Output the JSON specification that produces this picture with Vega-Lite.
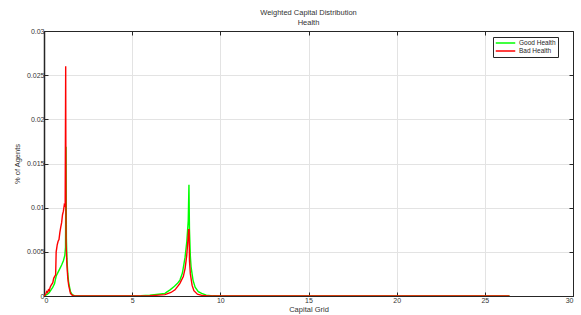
{
  "$schema": "https://vega.github.io/schema/vega-lite/v6.json",
  "autosize": "none",
  "width": 529,
  "height": 265,
  "padding": {"left": 44, "top": 31, "right": 8, "bottom": 19},
  "background": "white",
  "config": {
    "font": "Liberation Sans",
    "view": {"stroke": "#262626", "strokeWidth": 1},
    "axis": {
      "labelFont": "Liberation Sans",
      "titleFont": "Liberation Sans",
      "labelFontSize": 7,
      "titleFontSize": 7.5,
      "labelColor": "#333333",
      "titleColor": "#333333",
      "titleFontWeight": "normal",
      "domainColor": "#262626",
      "tickColor": "#262626",
      "gridColor": "#e3e3e3",
      "gridOpacity": 1
    }
  },
  "title": {
    "text": ["Weighted Capital Distribution", "Health"],
    "fontSize": 7.5,
    "fontWeight": "normal",
    "font": "Liberation Sans",
    "color": "#333333",
    "anchor": "middle",
    "lineHeight": 10,
    "offset": 1
  },
  "datasets": {
    "good": [
      {"x": 0, "y": 0}, {"x": 0.1, "y": 0.0001}, {"x": 0.2, "y": 0.0002}, {"x": 0.3, "y": 0.0004},
      {"x": 0.4, "y": 0.0007}, {"x": 0.5, "y": 0.001}, {"x": 0.6, "y": 0.0014}, {"x": 0.65, "y": 0.0019},
      {"x": 0.7, "y": 0.0023}, {"x": 0.8, "y": 0.0027}, {"x": 0.9, "y": 0.0031}, {"x": 1.0, "y": 0.0035},
      {"x": 1.1, "y": 0.004}, {"x": 1.18, "y": 0.0046}, {"x": 1.22, "y": 0.0055}, {"x": 1.25, "y": 0.0169},
      {"x": 1.27, "y": 0.0065}, {"x": 1.3, "y": 0.0042}, {"x": 1.35, "y": 0.0025}, {"x": 1.4, "y": 0.0015},
      {"x": 1.5, "y": 0.0005}, {"x": 1.6, "y": 0.00015}, {"x": 1.75, "y": 0}, {"x": 5.0, "y": 0},
      {"x": 5.5, "y": 0.00002}, {"x": 6.0, "y": 0.00008}, {"x": 6.5, "y": 0.0002}, {"x": 6.86, "y": 0.0003},
      {"x": 7.0, "y": 0.0005}, {"x": 7.15, "y": 0.0007}, {"x": 7.4, "y": 0.0011}, {"x": 7.6, "y": 0.0015},
      {"x": 7.71, "y": 0.0018}, {"x": 7.85, "y": 0.0026}, {"x": 8.0, "y": 0.0044}, {"x": 8.1, "y": 0.0062},
      {"x": 8.18, "y": 0.0085}, {"x": 8.22, "y": 0.0126}, {"x": 8.25, "y": 0.0075}, {"x": 8.3, "y": 0.0045},
      {"x": 8.34, "y": 0.0033}, {"x": 8.45, "y": 0.0018}, {"x": 8.57, "y": 0.001}, {"x": 8.75, "y": 0.0005},
      {"x": 8.94, "y": 0.0003}, {"x": 9.2, "y": 0.0001}, {"x": 9.6, "y": 0.00002}, {"x": 10.0, "y": 0},
      {"x": 26.4, "y": 0}
    ],
    "bad": [
      {"x": 0, "y": 0}, {"x": 0.1, "y": 0.0002}, {"x": 0.15, "y": 0.0005}, {"x": 0.2, "y": 0.0004},
      {"x": 0.25, "y": 0.0007}, {"x": 0.3, "y": 0.0006}, {"x": 0.35, "y": 0.001}, {"x": 0.4, "y": 0.0012},
      {"x": 0.5, "y": 0.0015}, {"x": 0.55, "y": 0.002}, {"x": 0.6, "y": 0.0022}, {"x": 0.66, "y": 0.0024},
      {"x": 0.69, "y": 0.005}, {"x": 0.72, "y": 0.0054}, {"x": 0.75, "y": 0.0058}, {"x": 0.8, "y": 0.0062},
      {"x": 0.85, "y": 0.0064}, {"x": 0.9, "y": 0.0072}, {"x": 0.95, "y": 0.0078}, {"x": 1.0, "y": 0.0083},
      {"x": 1.05, "y": 0.0092}, {"x": 1.1, "y": 0.0096}, {"x": 1.15, "y": 0.0103}, {"x": 1.2, "y": 0.0101},
      {"x": 1.23, "y": 0.026}, {"x": 1.25, "y": 0.006}, {"x": 1.3, "y": 0.0035}, {"x": 1.35, "y": 0.002},
      {"x": 1.4, "y": 0.0012}, {"x": 1.5, "y": 0.0003}, {"x": 1.6, "y": 0.0001}, {"x": 1.7, "y": 0},
      {"x": 5.5, "y": 0}, {"x": 6.0, "y": 0.00003}, {"x": 6.5, "y": 0.0001}, {"x": 6.86, "y": 0.00015},
      {"x": 7.2, "y": 0.0004}, {"x": 7.43, "y": 0.0007}, {"x": 7.7, "y": 0.0014}, {"x": 7.9, "y": 0.0022},
      {"x": 8.0, "y": 0.0031}, {"x": 8.09, "y": 0.0045}, {"x": 8.15, "y": 0.006}, {"x": 8.2, "y": 0.0075},
      {"x": 8.23, "y": 0.0075}, {"x": 8.25, "y": 0.004}, {"x": 8.3, "y": 0.0025}, {"x": 8.4, "y": 0.0012},
      {"x": 8.5, "y": 0.0006}, {"x": 8.7, "y": 0.0002}, {"x": 9.0, "y": 0.00005}, {"x": 9.3, "y": 0},
      {"x": 26.4, "y": 0}
    ]
  },
  "layer": [
    {
      "data": {"name": "good"},
      "transform": [{"calculate": "'Good Health'", "as": "series"}],
      "mark": {"type": "line", "strokeWidth": 1.4, "interpolate": "linear", "clip": true},
      "encoding": {
        "x": {
          "field": "x", "type": "quantitative",
          "scale": {"domain": [0, 30], "nice": false, "zero": false},
          "axis": {"title": "Capital Grid", "values": [0, 5, 10, 15, 20, 25, 30], "tickSize": -4, "labelPadding": 4, "titlePadding": 2, "grid": true, "domainWidth": 1}
        },
        "y": {
          "field": "y", "type": "quantitative",
          "scale": {"domain": [0, 0.03], "nice": false},
          "axis": {"title": "% of Agents", "values": [0, 0.005, 0.01, 0.015, 0.02, 0.025, 0.03], "format": ".3~f", "tickSize": -4, "labelPadding": 4, "titlePadding": 5, "grid": true, "domainWidth": 1.5}
        },
        "color": {
          "field": "series", "type": "nominal",
          "scale": {"domain": ["Good Health", "Bad Health"], "range": ["#00ff00", "#ff0000"]},
          "legend": {
            "title": null, "orient": "none", "legendX": 449, "legendY": 6,
            "symbolType": "stroke", "symbolSize": 380, "symbolStrokeWidth": 1.4,
            "clipHeight": 8,
            "labelFontSize": 6.5, "labelFont": "Liberation Sans", "labelColor": "#262626",
            "strokeColor": "#262626", "fillColor": "white", "padding": 2, "rowPadding": 0, "labelOffset": 3
          }
        }
      }
    },
    {
      "data": {"name": "bad"},
      "transform": [{"calculate": "'Bad Health'", "as": "series"}],
      "mark": {"type": "line", "strokeWidth": 1.4, "interpolate": "linear", "clip": true},
      "encoding": {
        "x": {
          "field": "x", "type": "quantitative",
          "axis": {"orient": "top", "title": null, "labels": false, "values": [0, 5, 10, 15, 20, 25, 30], "tickSize": -4, "grid": false}
        },
        "y": {
          "field": "y", "type": "quantitative",
          "axis": {"orient": "right", "title": null, "labels": false, "values": [0, 0.005, 0.01, 0.015, 0.02, 0.025, 0.03], "tickSize": -4, "grid": false}
        },
        "color": {"field": "series", "type": "nominal"}
      }
    }
  ],
  "resolve": {"axis": {"x": "independent", "y": "independent"}}
}
